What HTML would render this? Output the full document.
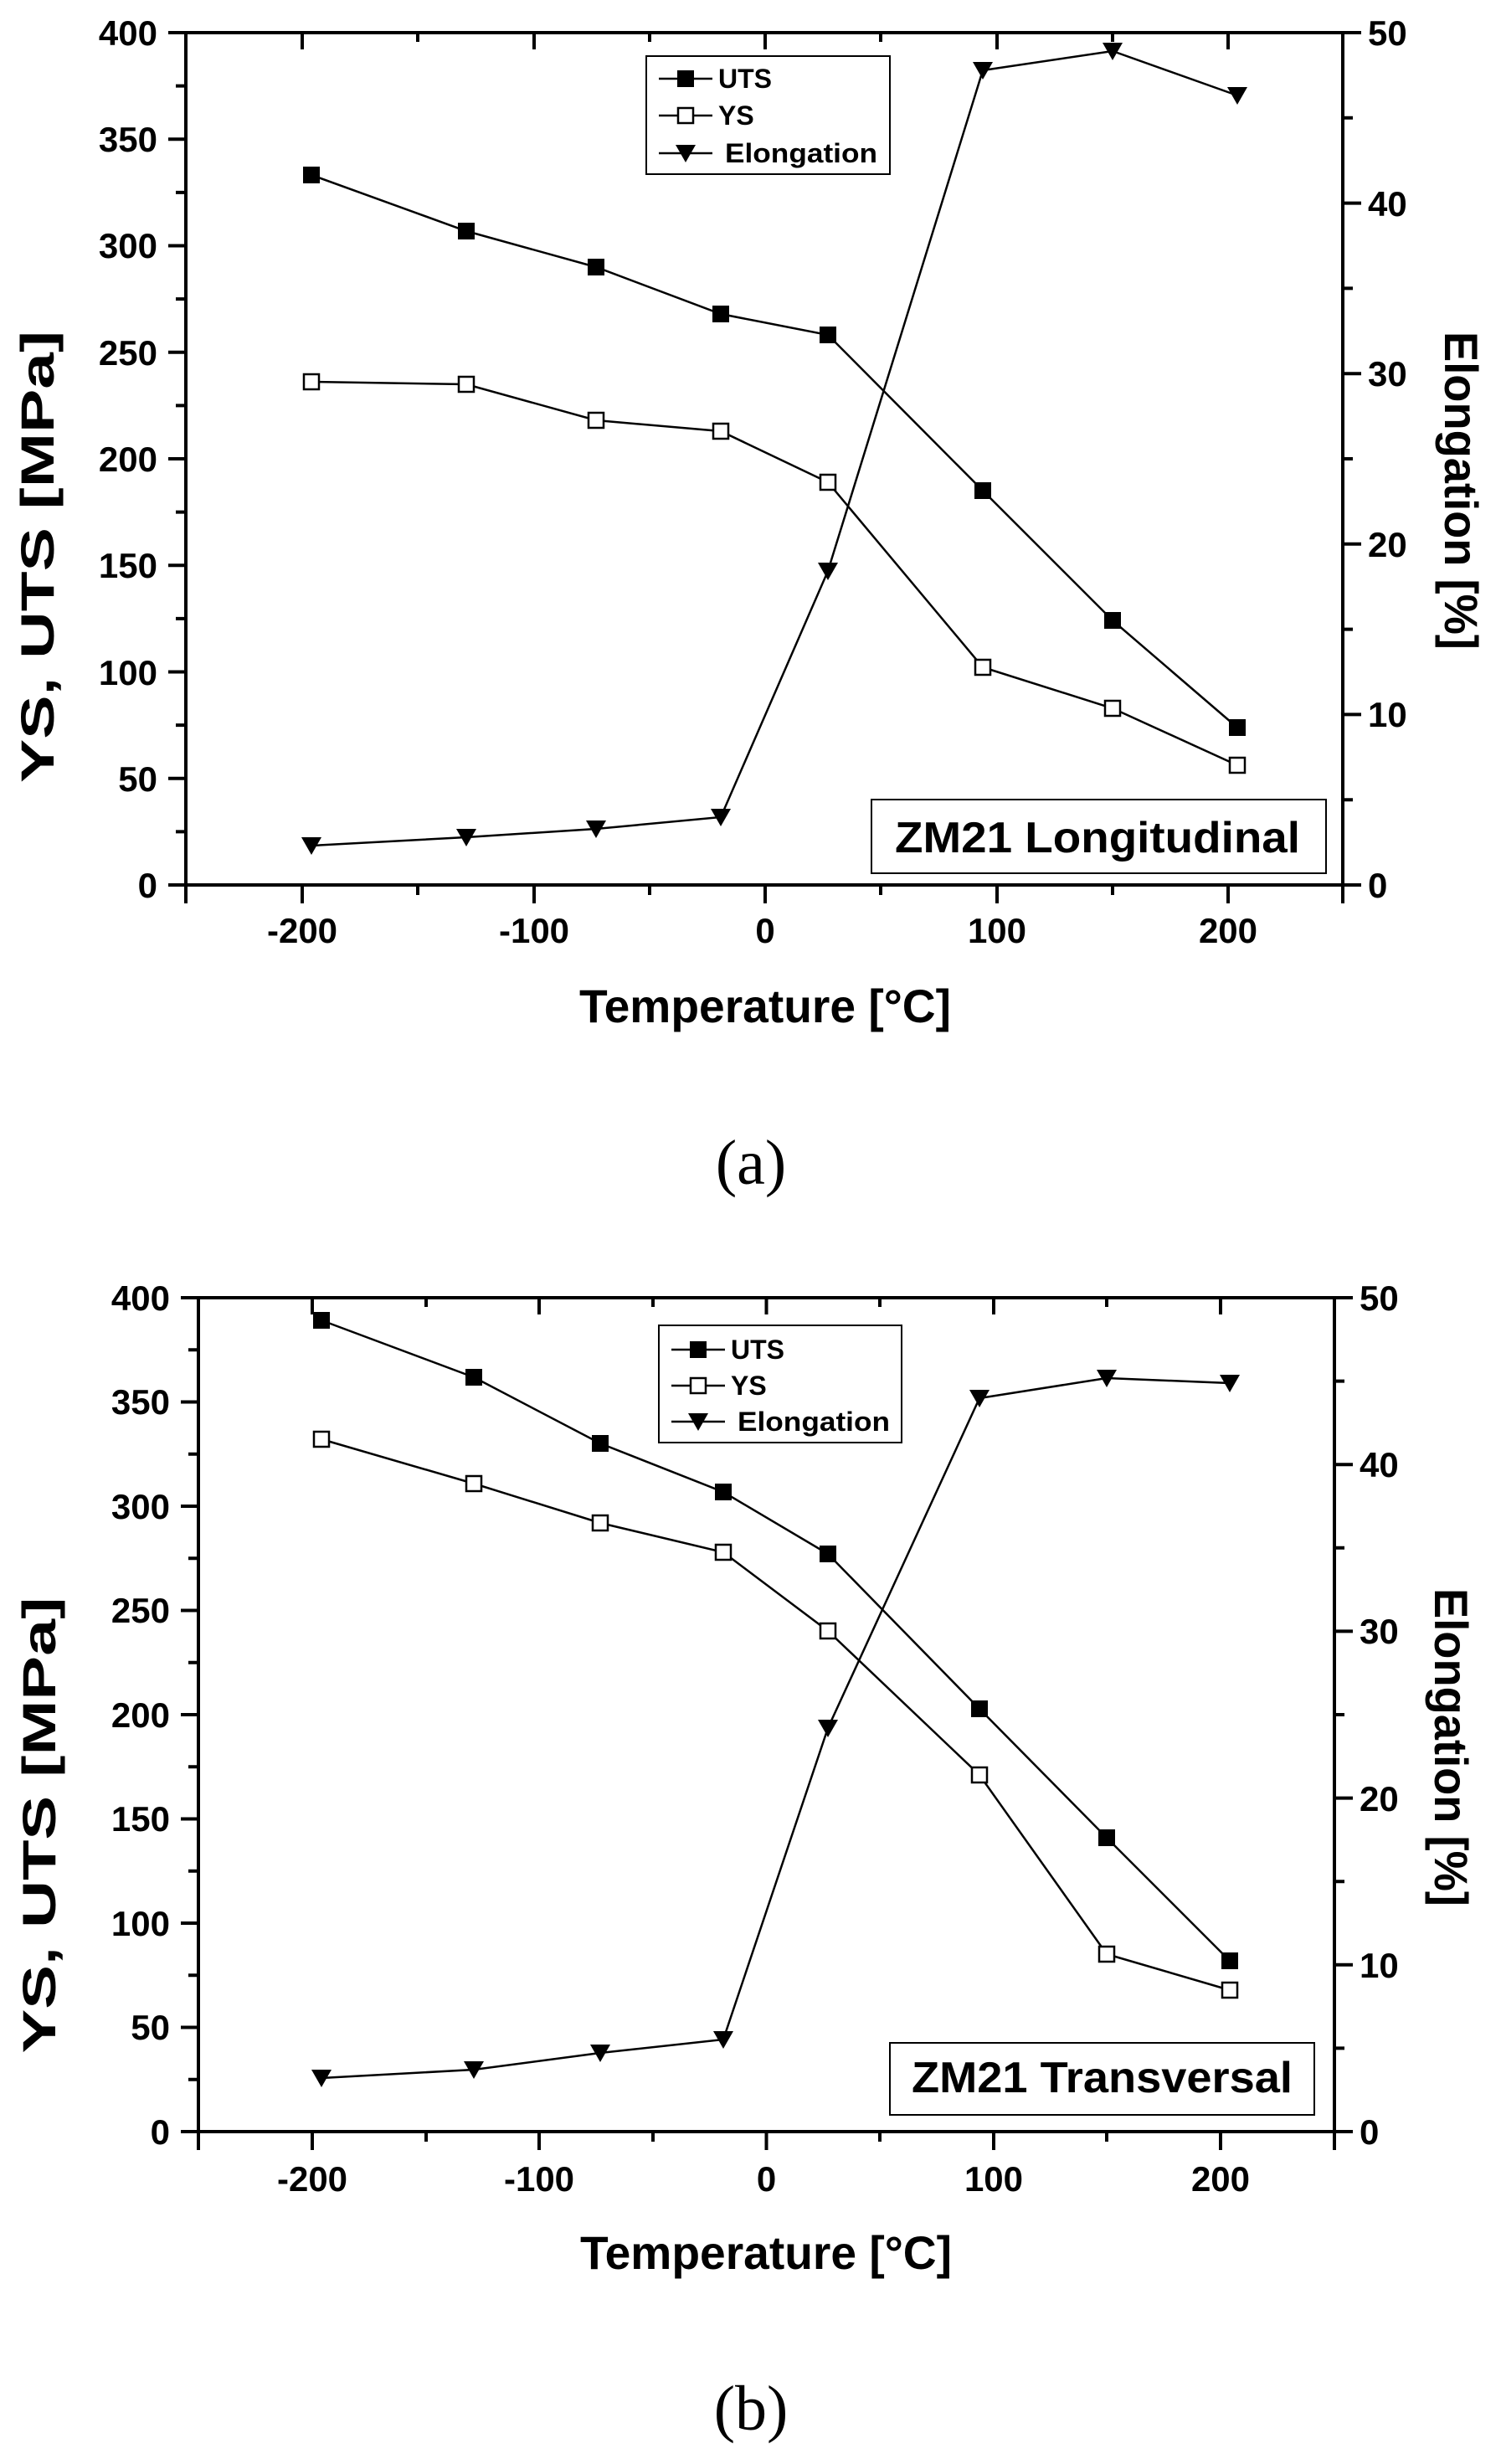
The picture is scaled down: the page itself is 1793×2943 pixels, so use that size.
<!DOCTYPE html>
<html><head><meta charset="utf-8"><style>
html,body{margin:0;padding:0;background:#fff;}
svg{display:block;}
text{font-family:"Liberation Sans",Arial,sans-serif;font-weight:bold;fill:#000;}
.s{font-family:"Liberation Serif",serif;font-weight:normal;}
</style></head><body>
<svg width="1793" height="2943" viewBox="0 0 1793 2943" xmlns="http://www.w3.org/2000/svg">
<defs>
<rect id="fs" x="-10" y="-10" width="20" height="20" fill="#000"/>
<rect id="os" x="-9" y="-9" width="18" height="18" fill="#fff" stroke="#000" stroke-width="2.5"/>
<path id="tr" d="M-12,-10 L12,-10 L0,11 Z" fill="#000"/>
</defs>

<!-- ================= CHART A ================= -->
<g stroke="#000" stroke-width="4" fill="none">
<rect x="222" y="39" width="1382" height="1018"/>
<path d="M222,1057h-21M222,929.8h-21M222,802.5h-21M222,675.3h-21M222,548h-21M222,420.8h-21M222,293.5h-21M222,166.3h-21M222,39h-21"/>
<path d="M222,993.4h-12M222,866.1h-12M222,738.9h-12M222,611.6h-12M222,484.4h-12M222,357.1h-12M222,229.9h-12M222,102.6h-12"/>
<path d="M1604,1057h22M1604,853.4h22M1604,649.8h22M1604,446.2h22M1604,242.6h22M1604,39h22"/>
<path d="M1604,955.2h12M1604,751.6h12M1604,548h12M1604,344.4h12M1604,140.8h12"/>
<path d="M361,1057v22M638,1057v22M914,1057v22M1191,1057v22M1467,1057v22M222,1057v22M1604,1057v22"/>
<path d="M499,1057v12M776,1057v12M1052,1057v12M1329,1057v12"/>
<path d="M361,39v20M638,39v20M914,39v20M1191,39v20M1467,39v20"/>
<path d="M499,39v11M776,39v11M1052,39v11M1329,39v11"/>
</g>
<g font-size="42" text-anchor="end">
<text x="188" y="1072">0</text><text x="188" y="945">50</text><text x="188" y="818">100</text><text x="188" y="690">150</text><text x="188" y="563">200</text><text x="188" y="436">250</text><text x="188" y="308">300</text><text x="188" y="181">350</text><text x="188" y="54">400</text>
</g>
<g font-size="42" text-anchor="start">
<text x="1634" y="1072">0</text><text x="1634" y="868">10</text><text x="1634" y="665">20</text><text x="1634" y="461">30</text><text x="1634" y="258">40</text><text x="1634" y="54">50</text>
</g>
<g font-size="42" text-anchor="middle">
<text x="361" y="1126">-200</text><text x="638" y="1126">-100</text><text x="914" y="1126">0</text><text x="1191" y="1126">100</text><text x="1467" y="1126">200</text>
</g>
<text x="914" y="1221" font-size="56" text-anchor="middle" textLength="444" lengthAdjust="spacingAndGlyphs">Temperature [°C]</text>
<text transform="translate(64,665) rotate(-90)" font-size="56" text-anchor="middle" textLength="540" lengthAdjust="spacingAndGlyphs">YS, UTS [MPa]</text>
<text transform="translate(1726,586) rotate(90)" font-size="56" text-anchor="middle" textLength="380" lengthAdjust="spacingAndGlyphs">Elongation [%]</text>

<g fill="none" stroke="#000" stroke-width="2.5">
<polyline points="372,209 557,276 712,319 861,375 989,400 1174,586 1329,741 1478,869"/>
<polyline points="372,456 557,459 712,502 861,515 989,576 1174,797 1329,846 1478,914"/>
<polyline points="372,1010 557,1000 712,990 861,976 989,682 1174,84 1329,61 1478,114"/>
</g>
<use href="#fs" x="372" y="209"/><use href="#fs" x="557" y="276"/><use href="#fs" x="712" y="319"/><use href="#fs" x="861" y="375"/><use href="#fs" x="989" y="400"/><use href="#fs" x="1174" y="586"/><use href="#fs" x="1329" y="741"/><use href="#fs" x="1478" y="869"/>
<use href="#os" x="372" y="456"/><use href="#os" x="557" y="459"/><use href="#os" x="712" y="502"/><use href="#os" x="861" y="515"/><use href="#os" x="989" y="576"/><use href="#os" x="1174" y="797"/><use href="#os" x="1329" y="846"/><use href="#os" x="1478" y="914"/>
<use href="#tr" x="372" y="1010"/><use href="#tr" x="557" y="1000"/><use href="#tr" x="712" y="990"/><use href="#tr" x="861" y="976"/><use href="#tr" x="989" y="682"/><use href="#tr" x="1174" y="84"/><use href="#tr" x="1329" y="61"/><use href="#tr" x="1478" y="114"/>

<rect x="772" y="67" width="291" height="141" fill="#fff" stroke="#000" stroke-width="2"/>
<g stroke="#000" stroke-width="2.5"><path d="M787,94h64M787,138h64M787,183h64"/></g>
<use href="#fs" x="819" y="94"/><use href="#os" x="819" y="138"/><use href="#tr" x="819" y="183"/>
<g font-size="32"><text x="858" y="105">UTS</text><text x="858" y="149">YS</text><text x="866" y="194" textLength="182" lengthAdjust="spacingAndGlyphs">Elongation</text></g>

<rect x="1041" y="955" width="543" height="88" fill="#fff" stroke="#000" stroke-width="2"/>
<text x="1069" y="1018" font-size="52" textLength="484" lengthAdjust="spacingAndGlyphs">ZM21 Longitudinal</text>

<text class="s" x="897" y="1414" font-size="76" text-anchor="middle">(a)</text>

<!-- ================= CHART B ================= -->
<g stroke="#000" stroke-width="4" fill="none">
<rect x="237" y="1550" width="1357" height="996"/>
<path d="M237,2546h-21M237,2421.5h-21M237,2297h-21M237,2172.5h-21M237,2048h-21M237,1923.5h-21M237,1799h-21M237,1674.5h-21M237,1550h-21"/>
<path d="M237,2483.8h-12M237,2359.3h-12M237,2234.8h-12M237,2110.3h-12M237,1985.8h-12M237,1861.3h-12M237,1736.8h-12M237,1612.3h-12"/>
<path d="M1594,2546h22M1594,2346.8h22M1594,2147.6h22M1594,1948.4h22M1594,1749.2h22M1594,1550h22"/>
<path d="M1594,2446.4h12M1594,2247.2h12M1594,2048h12M1594,1848.8h12M1594,1649.6h12"/>
<path d="M373,2546v22M644,2546v22M915.5,2546v22M1187,2546v22M1458,2546v22M237,2546v22M1594,2546v22"/>
<path d="M509,2546v12M780,2546v12M1051,2546v12M1322,2546v12"/>
<path d="M373,1550v20M644,1550v20M915.5,1550v20M1187,1550v20M1458,1550v20"/>
<path d="M509,1550v11M780,1550v11M1051,1550v11M1322,1550v11"/>
</g>
<g font-size="42" text-anchor="end">
<text x="203" y="2561">0</text><text x="203" y="2436">50</text><text x="203" y="2312">100</text><text x="203" y="2187">150</text><text x="203" y="2063">200</text><text x="203" y="1938">250</text><text x="203" y="1814">300</text><text x="203" y="1689">350</text><text x="203" y="1565">400</text>
</g>
<g font-size="42" text-anchor="start">
<text x="1624" y="2561">0</text><text x="1624" y="2362">10</text><text x="1624" y="2163">20</text><text x="1624" y="1963">30</text><text x="1624" y="1764">40</text><text x="1624" y="1565">50</text>
</g>
<g font-size="42" text-anchor="middle">
<text x="373" y="2617">-200</text><text x="644" y="2617">-100</text><text x="915.5" y="2617">0</text><text x="1187" y="2617">100</text><text x="1458" y="2617">200</text>
</g>
<text x="915" y="2710" font-size="56" text-anchor="middle" textLength="444" lengthAdjust="spacingAndGlyphs">Temperature [°C]</text>
<text transform="translate(66,2180) rotate(-90)" font-size="56" text-anchor="middle" textLength="545" lengthAdjust="spacingAndGlyphs">YS, UTS [MPa]</text>
<text transform="translate(1714,2087) rotate(90)" font-size="56" text-anchor="middle" textLength="380" lengthAdjust="spacingAndGlyphs">Elongation [%]</text>

<g fill="none" stroke="#000" stroke-width="2.5">
<polyline points="384,1577 566,1645 717,1724 864,1782 989,1856 1170,2041 1322,2195 1469,2342"/>
<polyline points="384,1719 566,1772 717,1819 864,1854 989,1948 1170,2120 1322,2334 1469,2377"/>
<polyline points="384,2482 566,2472 717,2452 864,2436 989,2064 1170,1670 1322,1646 1469,1652"/>
</g>
<use href="#fs" x="384" y="1577"/><use href="#fs" x="566" y="1645"/><use href="#fs" x="717" y="1724"/><use href="#fs" x="864" y="1782"/><use href="#fs" x="989" y="1856"/><use href="#fs" x="1170" y="2041"/><use href="#fs" x="1322" y="2195"/><use href="#fs" x="1469" y="2342"/>
<use href="#os" x="384" y="1719"/><use href="#os" x="566" y="1772"/><use href="#os" x="717" y="1819"/><use href="#os" x="864" y="1854"/><use href="#os" x="989" y="1948"/><use href="#os" x="1170" y="2120"/><use href="#os" x="1322" y="2334"/><use href="#os" x="1469" y="2377"/>
<use href="#tr" x="384" y="2482"/><use href="#tr" x="566" y="2472"/><use href="#tr" x="717" y="2452"/><use href="#tr" x="864" y="2436"/><use href="#tr" x="989" y="2064"/><use href="#tr" x="1170" y="1670"/><use href="#tr" x="1322" y="1646"/><use href="#tr" x="1469" y="1652"/>

<rect x="787" y="1583" width="290" height="140" fill="#fff" stroke="#000" stroke-width="2"/>
<g stroke="#000" stroke-width="2.5"><path d="M802,1612h64M802,1655h64M802,1698h64"/></g>
<use href="#fs" x="834" y="1612"/><use href="#os" x="834" y="1655"/><use href="#tr" x="834" y="1698"/>
<g font-size="32"><text x="873" y="1623">UTS</text><text x="873" y="1666">YS</text><text x="881" y="1709" textLength="182" lengthAdjust="spacingAndGlyphs">Elongation</text></g>

<rect x="1063" y="2440" width="507" height="86" fill="#fff" stroke="#000" stroke-width="2"/>
<text x="1089" y="2499" font-size="52" textLength="455" lengthAdjust="spacingAndGlyphs">ZM21 Transversal</text>

<text class="s" x="897" y="2902" font-size="76" text-anchor="middle">(b)</text>
</svg>
</body></html>
